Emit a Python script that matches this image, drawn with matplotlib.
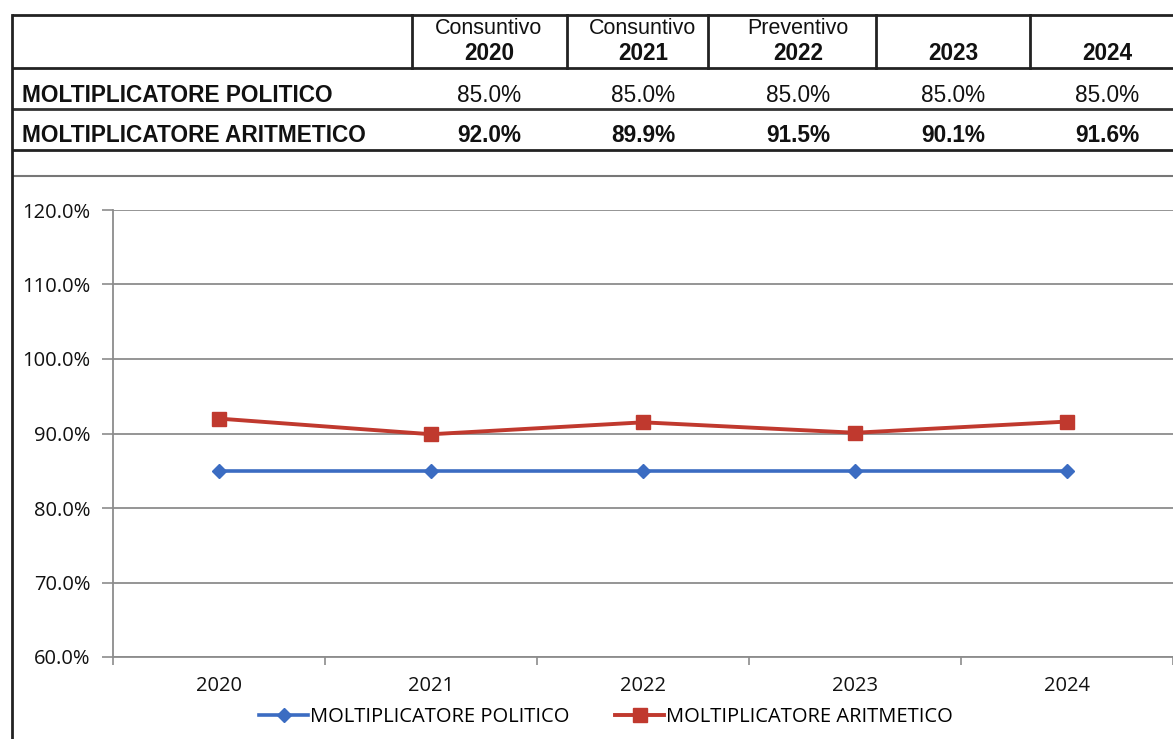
import matplotlib
matplotlib.use("Agg")
import matplotlib.pyplot as plt
from matplotlib.ticker import FuncFormatter, FixedLocator

anni = ["2020", "2021", "2022", "2023", "2024"]
intestazioni = ["Consuntivo", "Consuntivo", "Preventivo", "", ""]
politico = [85.0, 85.0, 85.0, 85.0, 85.0]
aritmetico = [92.0, 89.9, 91.5, 90.1, 91.6]
serie_nomi = ["MOLTIPLICATORE POLITICO", "MOLTIPLICATORE ARITMETICO"]

blu = "#3b6cc2"
rosso = "#c0392e"
grigio = "#8c8c8c"
tab_font = "Liberation Sans"
chart_font = "Open Sans"
tfs = 16.3

W, H = 1173, 739
fig = plt.figure(figsize=(W / 100, H / 100), dpi=100)

# overlay in pixel coordinates for the table on top
fr = fig.add_axes([0, 0, 1, 1])
fr.set_xlim(0, W)
fr.set_ylim(H, 0)
fr.axis("off")

col_x = [412, 567, 708, 876, 1030, W]
for y, c, lw in [(15, "#222222", 2), (68, "#222222", 2), (109, "#333333", 2),
                 (150, "#222222", 2), (176, "#777777", 1.5)]:
    fr.plot([12, W], [y, y], color=c, lw=lw, solid_capstyle="butt")
fr.plot([12, 12], [15, H], color="#222222", lw=2)
for x in col_x[:-1]:
    fr.plot([x, x], [15, 68], color="#222222", lw=2)

centri = [489, 643, 798, 953, 1107]
for cx, top, anno in zip(centri, intestazioni, anni):
    if top:
        fr.text(cx, 29, top, ha="center", va="center", fontsize=tfs - 0.8,
                family=tab_font, color="#111111")
    fr.text(cx, 54, anno, ha="center", va="center", fontsize=tfs,
            family=tab_font, weight="bold", color="#111111")

fr.text(22, 96, serie_nomi[0], ha="left", va="center", fontsize=tfs,
        family=tab_font, weight="bold", color="#111111")
fr.text(22, 135, serie_nomi[1], ha="left", va="center", fontsize=tfs,
        family=tab_font, weight="bold", color="#111111")
for cx, p, a in zip(centri, politico, aritmetico):
    fr.text(cx, 96, f"{p:.1f}%", ha="center", va="center", fontsize=tfs,
            family=tab_font, color="#111111")
    fr.text(cx, 135, f"{a:.1f}%", ha="center", va="center", fontsize=tfs,
            family=tab_font, weight="bold", color="#111111")

# line chart
ax = fig.add_axes([113 / W, 1 - 657 / H, (W - 113) / W, (657 - 210) / H])
x = range(len(anni))
ax.plot(x, [v / 100 for v in politico], color=blu, lw=2.6, marker="D",
        markersize=7.5, label=serie_nomi[0])
ax.plot(x, [v / 100 for v in aritmetico], color=rosso, lw=2.8, marker="s",
        markersize=9.5, label=serie_nomi[1])

ax.set_xlim(-0.5, len(anni) - 0.5)
ax.set_ylim(0.6, 1.2)
ax.set_yticks([0.6, 0.7, 0.8, 0.9, 1.0, 1.1, 1.2])
ax.yaxis.set_major_formatter(FuncFormatter(lambda v, _: f"{v * 100:.1f}%"))
ax.set_xticks(list(x))
ax.set_xticklabels(anni)
ax.xaxis.set_minor_locator(FixedLocator([i + 0.5 for i in range(-1, len(anni))]))
ax.tick_params(axis="x", which="major", length=0, pad=14)
ax.tick_params(axis="x", which="minor", length=6, color=grigio, width=1.2)
ax.tick_params(axis="y", length=8, color=grigio, width=1.2, pad=8)
for lab in ax.get_xticklabels() + ax.get_yticklabels():
    lab.set_family(chart_font)
    lab.set_fontsize(14.5)
    lab.set_color("#111111")
ax.grid(axis="y", color=grigio, lw=1.3)
ax.set_axisbelow(True)
for s in ["top", "right"]:
    ax.spines[s].set_visible(False)
for s in ["left", "bottom"]:
    ax.spines[s].set_color(grigio)
    ax.spines[s].set_linewidth(1.3)

fig.legend(loc="center", bbox_to_anchor=(606 / W, 1 - 717 / H), ncol=2,
           frameon=False, handlelength=2.4, handletextpad=0.1, columnspacing=2.3,
           prop={"family": chart_font, "size": 14.5})

fig.savefig("out.png", dpi=100, facecolor="white")
